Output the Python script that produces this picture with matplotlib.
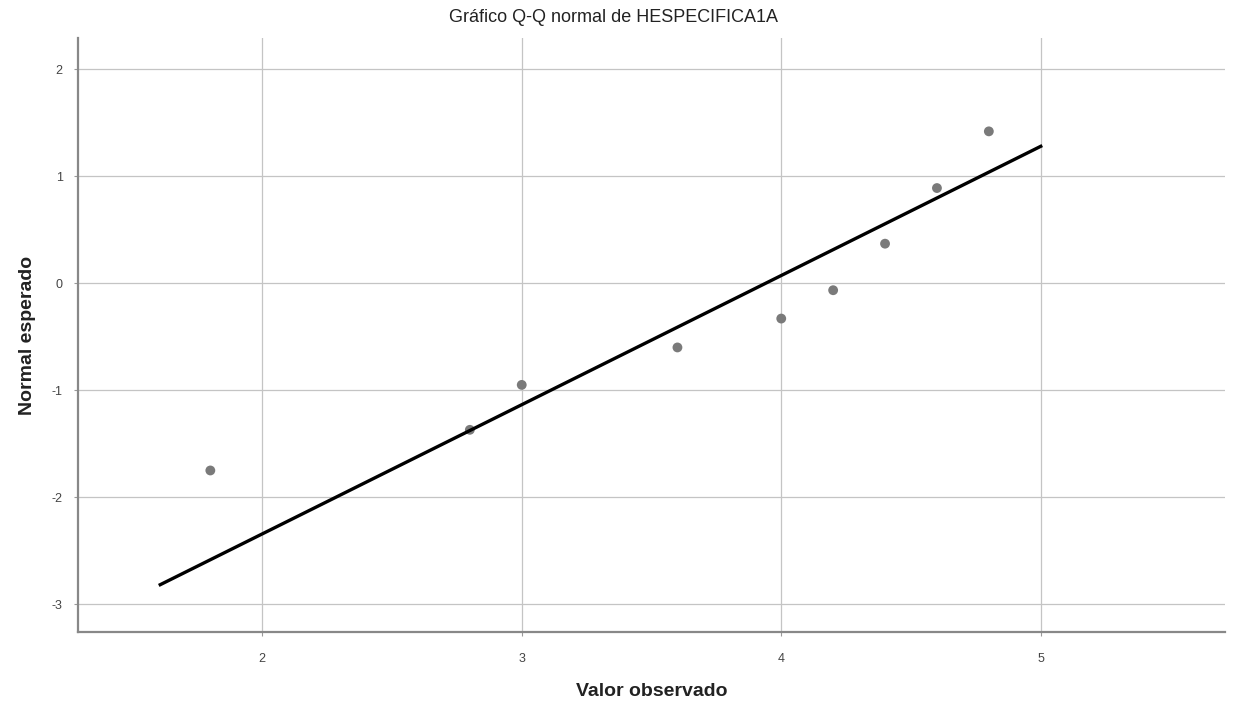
import matplotlib
matplotlib.use("Agg")
import matplotlib.pyplot as plt
import numpy as np

plt.rcParams['font.family'] = ['Liberation Sans', 'DejaVu Sans']

title = "Gráfico Q-Q normal de HESPECIFICA1A"
xlabel = "Valor observado"
ylabel = "Normal esperado"

observed = [1.8, 2.8, 3.0, 3.6, 4.0, 4.2, 4.4, 4.6, 4.8]
expected = [-1.75, -1.37, -0.95, -0.60, -0.33, -0.065, 0.37, 0.89, 1.42]

line_x = [1.607, 5.0]
line_mean = 3.94
line_sd = 0.828

xticks = [2, 3, 4, 5]
yticks = [2, 1, 0, -1, -2, -3]

fig = plt.figure(figsize=(12.34, 7.09), dpi=100)
ax = fig.add_axes([0.0632, 0.1086, 0.9295, 0.8374])
ax.set_xlim(1.29, 5.71)
ax.set_ylim(-3.26, 2.29)

ax.grid(True, color='#c4c4c4', linewidth=0.9)
ax.set_axisbelow(True)

lx = np.array(line_x)
ax.plot(lx, (lx - line_mean) / line_sd, color='black', linewidth=2.4, zorder=3)
ax.scatter(observed, expected, s=50, color='#7a7a7a', edgecolors='none', zorder=2)

ax.set_xticks(xticks)
ax.set_yticks(yticks)
ax.set_xticklabels([str(t) for t in xticks])
ax.set_yticklabels([str(t) for t in yticks])
ax.tick_params(axis='both', labelsize=9, colors='#444444', length=3, color='#999999')
ax.tick_params(axis='x', pad=12)
ax.tick_params(axis='y', pad=8)

for s in ['top', 'right']:
    ax.spines[s].set_visible(False)
for s in ['left', 'bottom']:
    ax.spines[s].set_color('#888888')
    ax.spines[s].set_linewidth(1.6)

ax.set_xlabel(xlabel, fontsize=14, fontweight='bold', labelpad=13, color='#222222')
ax.set_ylabel(ylabel, fontsize=14, fontweight='bold', labelpad=11, color='#222222')
fig.text(0.497, 0.975, title, ha='center', va='center', fontsize=13, color='#222222')

fig.savefig("out.png", dpi=100)
